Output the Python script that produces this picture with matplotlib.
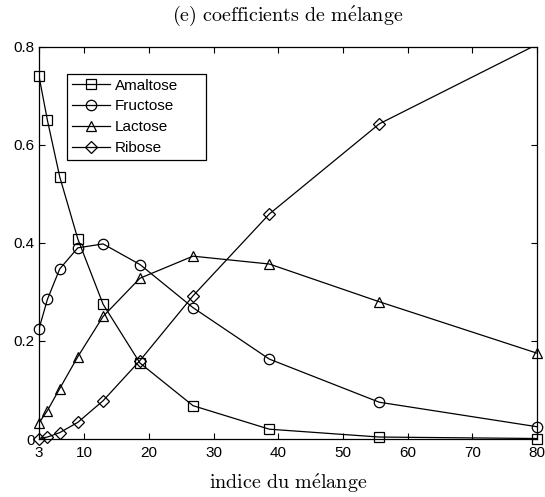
import matplotlib.pyplot as plt

plt.rcParams['font.family'] = 'sans-serif'
plt.rcParams['font.sans-serif'] = ['Liberation Sans', 'DejaVu Sans']
plt.rcParams['mathtext.fontset'] = 'cm'

# Mixture index and estimated mixing coefficients
mix_index = [3, 4.3, 6.2, 9.0, 12.9, 18.6, 26.8, 38.6, 55.6, 80]
amaltose = [0.740, 0.650, 0.535, 0.408, 0.275, 0.155, 0.068, 0.020, 0.004, 0.001]
fructose = [0.225, 0.285, 0.347, 0.390, 0.398, 0.356, 0.268, 0.163, 0.075, 0.025]
lactose = [0.033, 0.058, 0.103, 0.168, 0.250, 0.328, 0.373, 0.357, 0.280, 0.175]
ribose = [0.001, 0.004, 0.013, 0.034, 0.078, 0.160, 0.292, 0.459, 0.643, 0.805]

series = [('Amaltose', amaltose, 's'),
          ('Fructose', fructose, 'o'),
          ('Lactose', lactose, '^'),
          ('Ribose', ribose, 'D')]

x_ticks = [3, 10, 20, 30, 40, 50, 60, 70, 80]
y_ticks = [0, 0.2, 0.4, 0.6, 0.8]
y_ticklabels = ['0', '0.2', '0.4', '0.6', '0.8']
y_lim = (0, 0.8)

fig = plt.figure(figsize=(5.45, 4.97), dpi=100)
ax = fig.add_axes([0.0716, 0.1167, 0.914, 0.789])

for name, vals, mk in series:
    ms = 6.5 if mk == 'D' else 7.5
    style = dict(color='black', lw=0.9, marker=mk, markersize=ms,
                 markerfacecolor='none', markeredgecolor='black',
                 markeredgewidth=0.9)
    # lines are clipped to the axes box
    ax.plot(mix_index, vals, **{**style, 'marker': 'None'})
    # markers only for points inside the y range, drawn unclipped
    inside = [(x, v) for x, v in zip(mix_index, vals) if y_lim[0] <= v <= y_lim[1]]
    ax.plot([p[0] for p in inside], [p[1] for p in inside], **{**style, 'lw': 0},
            clip_on=False)
    # legend proxy with line and marker
    ax.plot([], [], label=name, **style)

ax.set_xlim(3, 80)
ax.set_ylim(*y_lim)
ax.set_xticks(x_ticks)
ax.set_yticks(y_ticks)
ax.set_yticklabels(y_ticklabels)
ax.tick_params(direction='in', length=4, width=0.8, top=True, right=True,
               labelsize=11)
ax.tick_params(axis='x', pad=5)
ax.tick_params(axis='y', pad=3)
for sp in ax.spines.values():
    sp.set_linewidth(0.9)

fig.text(0.528, 0.968, r'$\mathrm{(e)\ coefficients\ de\ m\acute{e}lange}$',
         fontsize=14.5, ha='center', va='center')
fig.text(0.528, 0.028, r'$\mathrm{indice\ du\ m\acute{e}lange}$',
         fontsize=14.5, ha='center', va='center')

leg_w = 139 / 498
leg_h = 86 / 392
leg_top = 0.931
leg = ax.legend(loc='upper left', mode='expand',
                bbox_to_anchor=(0.056, leg_top - leg_h, leg_w, leg_h),
                borderaxespad=0, fontsize=11, handlelength=2.5,
                handletextpad=0.33, labelspacing=0.45, borderpad=0.3,
                fancybox=False, framealpha=1)
leg.get_frame().set_edgecolor('black')
leg.get_frame().set_linewidth(0.9)

fig.savefig('out.png', dpi=100)
